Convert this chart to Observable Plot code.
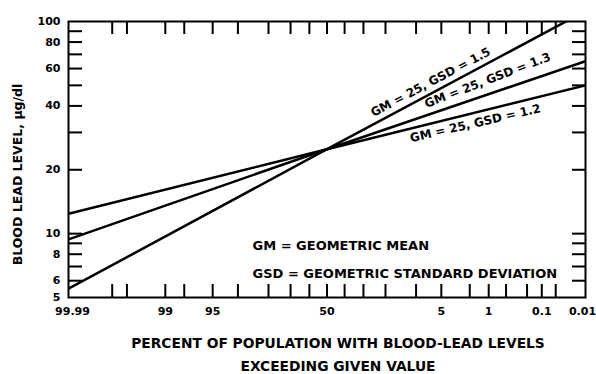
<!DOCTYPE html>
<html>
<head>
<meta charset="utf-8">
<script src="https://cdn.jsdelivr.net/npm/d3@7"></script>
<script src="https://cdn.jsdelivr.net/npm/@observablehq/plot@0.6"></script>
<style>
  html, body { margin: 0; padding: 0; background: #fff; }
</style>
</head>
<body>
<div id="chart"></div>
<script>
// ---- data ----
const pctPoints = [99.99, 50, 0.01];          // percent exceeding
const gsd12 = [12.4, 25, 50];                  // GM = 25, GSD = 1.2
const gsd13 = [9.4, 25, 65];                   // GM = 25, GSD = 1.3
const gsd15 = [5.5, 25, 112];                  // GM = 25, GSD = 1.5
const seriesNames = ["GM = 25, GSD = 1.2", "GM = 25, GSD = 1.3", "GM = 25, GSD = 1.5"];

const xTickPct = [99.9, 99.8, 99, 98, 95, 90, 80, 70, 60, 50, 40, 30, 20, 10, 5, 2, 1, 0.5, 0.2, 0.1, 0.05];
const xLabelPct = [99.99, 99, 95, 50, 5, 1, 0.1, 0.01];
const yTickVals = [6, 7, 8, 9, 10, 20, 30, 40, 50, 60, 70, 80, 90];
const yLabelVals = [5, 6, 8, 10, 20, 40, 60, 80, 100];

const lineLabelText = ["GM = 25, GSD = 1.5", "GM = 25, GSD = 1.3", "GM = 25, GSD = 1.2"];
const lineLabelPct = [6.8, 1.04, 1.64];
const lineLabelVal = [51.7, 52.8, 33.1];
const lineLabelAngle = [-28, -21, -13];

const legendText = ["GM = GEOMETRIC MEAN", "GSD = GEOMETRIC STANDARD DEVIATION"];
const legendPct = [85.8, 85.8];
const legendVal = [8.8, 6.49];

const yTitle = "BLOOD LEAD LEVEL, \u00B5g/dl";
const xTitle1 = "PERCENT OF POPULATION WITH BLOOD-LEAD LEVELS";
const xTitle2 = "EXCEEDING GIVEN VALUE";

// ---- probability (normal quantile) transform ----
function probit(p) {
  const a = [-3.969683028665376e+01, 2.209460984245205e+02, -2.759285104469687e+02, 1.383577518672690e+02, -3.066479806614716e+01, 2.506628277459239e+00];
  const b = [-5.447609879822406e+01, 1.615858368580409e+02, -1.556989798598866e+02, 6.680131188771972e+01, -1.328068155288572e+01];
  const c = [-7.784894002430293e-03, -3.223964580411365e-01, -2.400758277161838e+00, -2.549732539343734e+00, 4.374664141464968e+00, 2.938163982698783e+00];
  const d = [7.784695709041462e-03, 3.224671290700398e-01, 2.445134137142996e+00, 3.754408661907416e+00];
  const pl = 0.02425, ph = 1 - pl;
  let q, r;
  if (p < pl) {
    q = Math.sqrt(-2 * Math.log(p));
    return (((((c[0]*q+c[1])*q+c[2])*q+c[3])*q+c[4])*q+c[5]) / ((((d[0]*q+d[1])*q+d[2])*q+d[3])*q+1);
  } else if (p <= ph) {
    q = p - 0.5; r = q * q;
    return (((((a[0]*r+a[1])*r+a[2])*r+a[3])*r+a[4])*r+a[5])*q / (((((b[0]*r+b[1])*r+b[2])*r+b[3])*r+b[4])*r+1);
  } else {
    q = Math.sqrt(-2 * Math.log(1 - p));
    return -(((((c[0]*q+c[1])*q+c[2])*q+c[3])*q+c[4])*q+c[5]) / ((((d[0]*q+d[1])*q+d[2])*q+d[3])*q+1);
  }
}
const zOf = pct => -probit(pct / 100);

// ---- build table ----
const seriesVals = [gsd12, gsd13, gsd15];
const rows = [];
seriesVals.forEach((vals, s) => vals.forEach((v, i) => rows.push({s: seriesNames[s], z: zOf(pctPoints[i]), v})));
const labels = lineLabelText.map((t, i) => ({t, z: zOf(lineLabelPct[i]), v: lineLabelVal[i], a: lineLabelAngle[i]}));
const legend = legendText.map((t, i) => ({t, z: zOf(legendPct[i]), v: legendVal[i]}));

const W = 596, H = 374, mt = 21, mb = 77, ml = 68, mr = 11;
const FH = H - mt - mb, FW = W - ml - mr;
const tick = 13;
const first = xLabelPct[0], last = xLabelPct[xLabelPct.length - 1];

const chart = Plot.plot({
  width: W, height: H,
  marginTop: mt, marginBottom: mb, marginLeft: ml, marginRight: mr,
  style: {fontFamily: "'DejaVu Sans', 'Liberation Sans', sans-serif", fontWeight: "bold", fontSize: "12px", color: "#000", background: "#fff"},
  x: {type: "linear", domain: [zOf(99.99), zOf(0.01)], axis: null},
  y: {type: "log", domain: [5, 100], axis: null},
  marks: [
    // inward ticks, bottom and top
    Plot.tickX(xTickPct, {x: zOf, insetTop: FH - tick, stroke: "#000", strokeWidth: 2}),
    Plot.tickX(xTickPct, {x: zOf, insetBottom: FH - tick, stroke: "#000", strokeWidth: 2}),
    // inward ticks, left and right
    Plot.tickY(yTickVals, {y: d => d, insetRight: FW - tick - 1, stroke: "#000", strokeWidth: 2}),
    Plot.tickY(yTickVals, {y: d => d, insetLeft: FW - tick, stroke: "#000", strokeWidth: 2}),
    Plot.frame({stroke: "#000", strokeWidth: 2}),
    // tick labels
    Plot.text(xLabelPct, {filter: d => d !== first && d !== last, x: zOf, frameAnchor: "bottom", lineAnchor: "middle", textAnchor: "middle", dy: 14, text: d => String(d), fontSize: 11}),
    Plot.text([first], {x: zOf, frameAnchor: "bottom", lineAnchor: "middle", textAnchor: "middle", dx: 4, dy: 14, text: d => String(d), fontSize: 11}),
    Plot.text([last], {x: zOf, frameAnchor: "bottom", lineAnchor: "middle", textAnchor: "middle", dx: -3, dy: 14, text: d => String(d), fontSize: 11}),
    Plot.text(yLabelVals, {y: d => d, frameAnchor: "left", dx: -8, textAnchor: "end", lineAnchor: "middle", text: d => String(d), fontSize: 11}),
    // data lines
    Plot.line(rows, {x: "z", y: "v", z: "s", stroke: "#000", strokeWidth: 2.5, clip: true}),
    // line labels
    Plot.text(labels, {x: "z", y: "v", text: "t", rotate: "a", fontSize: 12}),
    // legend notes
    Plot.text(legend, {x: "z", y: "v", text: "t", textAnchor: "start", fontSize: 13}),
    // axis titles
    Plot.text([yTitle], {frameAnchor: "left", textAnchor: "middle", lineAnchor: "middle", dx: -51, dy: 15, rotate: -90, fontSize: 12.5}),
    Plot.text([xTitle1], {frameAnchor: "bottom", textAnchor: "middle", lineAnchor: "middle", dx: 11, dy: 46, fontSize: 13.8}),
    Plot.text([xTitle2], {frameAnchor: "bottom", textAnchor: "middle", lineAnchor: "middle", dx: 11, dy: 69, fontSize: 13.8})
  ]
});
document.getElementById("chart").appendChild(chart);
</script>
</body>
</html>
